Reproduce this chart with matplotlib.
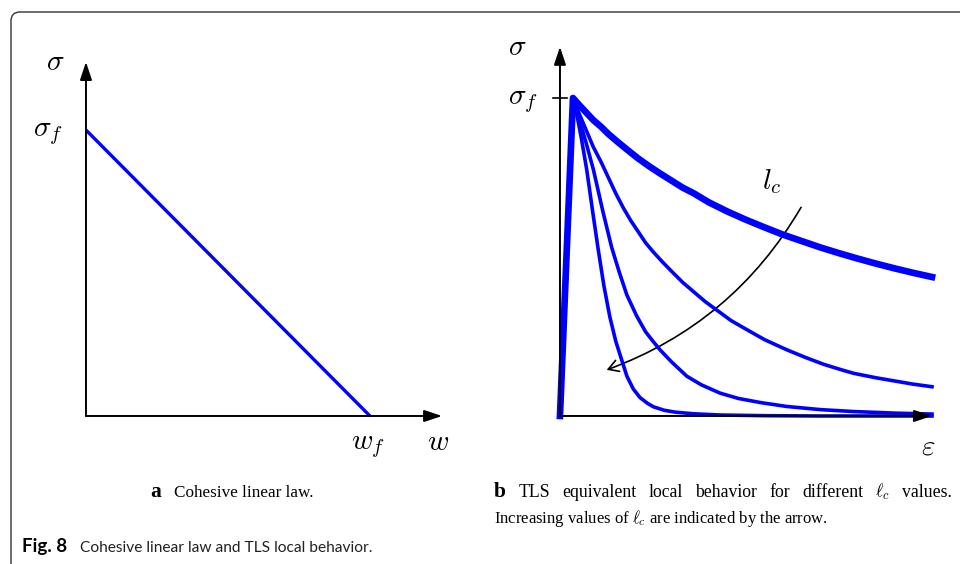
import matplotlib
matplotlib.use("Agg")
import matplotlib.pyplot as plt
from matplotlib.patches import FancyBboxPatch, FancyArrowPatch
from matplotlib.transforms import IdentityTransform

plt.rcParams['mathtext.fontset'] = 'cm'

# (a) cohesive linear law: sigma goes from sigma_f at w=0 to 0 at w=w_f
law_w = [0.0, 1.0]
law_sigma = [1.0, 0.0]

# (b) TLS equivalent local behaviour, one curve per l_c (largest l_c first)
eps_1 = [0, 0.035, 0.05, 0.07, 0.09, 0.11, 0.13, 0.155, 0.18, 0.21, 0.24, 0.27, 0.30, 0.33, 0.36,
         0.40, 0.45, 0.50, 0.55, 0.60, 0.65, 0.70, 0.75, 0.80, 0.85, 0.90, 0.95, 1.0]
sig_1 = [0, 1.0, 0.98, 0.955, 0.93, 0.91, 0.887, 0.862, 0.838, 0.81, 0.785, 0.762, 0.74, 0.718, 0.70,
         0.672, 0.643, 0.617, 0.593, 0.57, 0.55, 0.53, 0.512, 0.495, 0.479, 0.464, 0.45, 0.437]

eps_2 = [0, 0.035, 0.05, 0.07, 0.09, 0.11, 0.13, 0.15, 0.17, 0.19, 0.21, 0.23, 0.25, 0.275, 0.30,
         0.33, 0.36, 0.39, 0.425, 0.46, 0.50, 0.55, 0.61, 0.66, 0.71, 0.76, 0.79, 0.85, 0.90, 0.95, 1.0]
sig_2 = [0, 1.0, 0.955, 0.90, 0.845, 0.80, 0.75, 0.70, 0.655, 0.615, 0.58, 0.545, 0.517, 0.485, 0.455,
         0.42, 0.39, 0.36, 0.33, 0.30, 0.273, 0.24, 0.208, 0.184, 0.162, 0.144, 0.134, 0.12, 0.11, 0.10, 0.092]

eps_3 = [0, 0.035, 0.05, 0.07, 0.09, 0.115, 0.139, 0.16, 0.18, 0.206, 0.23, 0.25, 0.269, 0.30, 0.341,
         0.38, 0.43, 0.48, 0.54, 0.609, 0.70, 0.788, 0.90, 1.0]
sig_3 = [0, 1.0, 0.94, 0.86, 0.774, 0.645, 0.53, 0.45, 0.38, 0.315, 0.265, 0.235, 0.208, 0.17, 0.125,
         0.098, 0.072, 0.055, 0.042, 0.03, 0.02, 0.014, 0.009, 0.006]

eps_4 = [0, 0.035, 0.045, 0.058, 0.072, 0.087, 0.103, 0.118, 0.134, 0.15, 0.166, 0.18, 0.197, 0.215,
         0.235, 0.251, 0.28, 0.31, 0.358, 0.43, 0.55, 0.70, 1.0]
sig_4 = [0, 1.0, 0.95, 0.87, 0.774, 0.65, 0.522, 0.41, 0.312, 0.235, 0.176, 0.125, 0.085, 0.058,
         0.04, 0.029, 0.018, 0.012, 0.007, 0.003, 0.001, 0.0, 0.0]

curves = [(eps_1, sig_1, 4.8), (eps_2, sig_2, 2.6), (eps_3, sig_3, 2.6), (eps_4, sig_4, 2.6)]

cap_a = 'Cohesive linear law.'
cap_b1 = r'TLS equivalent local behavior for different $\ell_c$ values.'
cap_b2 = r'Increasing values of $\ell_c$ are indicated by the arrow.'
fig_title = 'Cohesive linear law and TLS local behavior.'

fig = plt.figure(figsize=(9.6, 5.64), dpi=100)

# frame round the figure (rounded top-left corner, runs off right and bottom)
frame = FancyBboxPatch((11, -60), 1000, 612, boxstyle="round,pad=0,rounding_size=9",
                       transform=IdentityTransform(), facecolor='none',
                       edgecolor='#333333', linewidth=1.0)
fig.add_artist(frame)

axis_arrow = dict(arrowstyle='-|>,head_length=0.9,head_width=0.3', mutation_scale=12,
                  color='black', linewidth=1.4, shrinkA=0, shrinkB=0)
lab = 21

# ---- panel a
ax1 = fig.add_axes([0.0304, 0.1103, 0.4733, 0.8113])
ax1.set_xlim(-0.2, 1.4)
ax1.set_ylim(-0.3, 1.3)
ax1.axis('off')
ax1.annotate('', xy=(0, 1.238), xytext=(0, 0), arrowprops=axis_arrow)
ax1.annotate('', xy=(1.254, 0), xytext=(0, 0), arrowprops=axis_arrow)
ax1.plot(law_w, law_sigma, color='#0000ff', linewidth=2.4, solid_capstyle='butt')
ax1.text(-0.109, 1.239, r'$\sigma$', fontsize=lab, ha='center', va='center')
ax1.text(-0.135, 0.99, r'$\sigma_f$', fontsize=lab, ha='center', va='center')
ax1.text(0.994, -0.105, r'$w_f$', fontsize=lab, ha='center', va='center')
ax1.text(1.241, -0.09, r'$w$', fontsize=lab, ha='center', va='center')

# ---- panel b
ax2 = fig.add_axes([0.5058, 0.0933, 0.4844, 0.9021])
ax2.set_xlim(-0.2, 1.05)
ax2.set_ylim(-0.3, 1.3)
ax2.axis('off')
ax2.annotate('', xy=(0, 1.161), xytext=(0, 0), arrowprops=axis_arrow)
ax2.annotate('', xy=(1.0, 0), xytext=(0, 0), arrowprops=axis_arrow)
ax2.plot([-0.018, 0.02], [1.0, 1.0], color='black', linewidth=1.2)
for e, s, lw in curves:
    ax2.plot(e, s, color='#0000ff', linewidth=lw, solid_joinstyle='round')

arc = FancyArrowPatch((0.648, 0.656), (0.1255, 0.145), connectionstyle='arc3,rad=-0.18',
                      arrowstyle='->,head_length=0.6,head_width=0.35', mutation_scale=12,
                      color='black', linewidth=1.2, shrinkA=0, shrinkB=0)
ax2.add_patch(arc)
ax2.text(0.569, 0.737, r'$l_c$', fontsize=lab, ha='center', va='center')
ax2.text(-0.116, 1.161, r'$\sigma$', fontsize=lab, ha='center', va='center')
ax2.text(-0.10, 0.99, r'$\sigma_f$', fontsize=lab, ha='center', va='center')
ax2.text(0.99, -0.097, r'$\varepsilon$', fontsize=lab, ha='center', va='center')

# ---- captions
serif = 'Liberation Serif'
y1 = 1 - 497 / 564
y2 = 1 - 523 / 564
fig.text(150 / 960, y1, 'a', fontsize=15.5, fontweight='bold', family=serif)
fig.text(174 / 960, y1, cap_a, fontsize=12.3, family=serif)
fig.text(494 / 960, y1, 'b', fontsize=15.5, fontweight='bold', family=serif)
fig.text(494 / 960, y2, cap_b2, fontsize=12, family=serif)

# first line of caption b is justified between x=519 and x=952
renderer = fig.canvas.get_renderer()
words = cap_b1.split(' ')
texts = [fig.text(0, y1, w, fontsize=12.8, family=serif) for w in words]
widths = [t.get_window_extent(renderer).width for t in texts]
gap = (952 - 519 - sum(widths)) / (len(words) - 1)
x = 519
for t, w in zip(texts, widths):
    t.set_x(x / 960)
    x += w + gap

sans = ['Lato', 'DejaVu Sans']
fig.text(22 / 960, 1 - 552 / 564, 'Fig. 8', fontsize=13.5, fontweight='bold', family=sans)
fig.text(80 / 960, 1 - 552 / 564, fig_title, fontsize=11.2, family=sans, color='#222222')

fig.savefig('out.png', dpi=100)
